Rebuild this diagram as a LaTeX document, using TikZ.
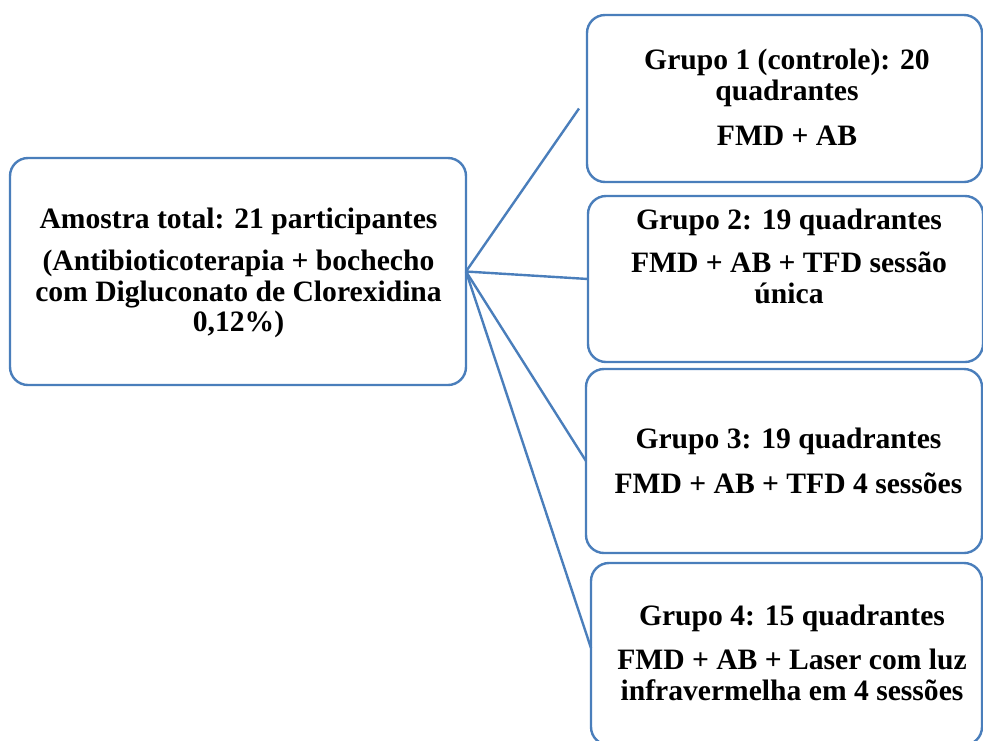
\documentclass[tikz,border=0pt]{standalone}
\usepackage{fontspec}
\setmainfont{Liberation Serif}
\definecolor{boxblue}{RGB}{74,126,187}
\begin{document}
\begin{tikzpicture}[x=1pt,y=-1pt,
  box/.style={draw=boxblue,line width=2.4pt,rounded corners=18pt,fill=white,inner sep=0pt,outer sep=0pt},
  link/.style={draw=boxblue,line width=2.4pt},
  txt/.style={anchor=base,align=center,inner sep=0pt,font=\bfseries\fontsize{29.6}{30.5}\selectfont}]
\useasboundingbox (0,0) rectangle (983,740);
\clip (0,0) rectangle (983,740);
\node[box,minimum width=456pt,minimum height=227pt] (root) at (238,271.5) {};
\node[box,minimum width=395pt,minimum height=167pt] (g1) at (784.5,98.5) {};
\node[box,minimum width=395pt,minimum height=166pt] (g2) at (785.5,279) {};
\node[box,minimum width=396pt,minimum height=184pt] (g3) at (784,461) {};
\node[box,minimum width=391pt,minimum height=182pt] (g4) at (786.5,654) {};
\coordinate (e1) at ([xshift=-8pt,yshift=-10pt]g1.west);
\draw[link] (root.east) -- (e1);
\draw[link] (root.east) -- (g2.west);
\draw[link] (root.east) -- (g3.west);
\draw[link] (root.east) -- ([yshift=6pt]g4.west);
\node[txt] (t0) at (238.5,331.7) {Amostra total: 21 participantes\\[12pt](Antibioticoterapia + bochecho\\com Digluconato de Clorexidina\\0,12\%)};
\node[txt] (t1) at (787,145.7) {Grupo 1 (controle): 20\\quadrantes\\[15pt]FMD + AB};
\node[txt] (t2) at (789,303.3) {Grupo 2: 19 quadrantes\\[12.5pt]FMD + AB + TFD sessão\\única};
\node[txt] (t3) at (788.5,493) {Grupo 3: 19 quadrantes\\[14pt]FMD + AB + TFD 4 sessões};
\node[txt] (t4) at (792,700) {Grupo 4: 15 quadrantes\\[14pt]FMD + AB + Laser com luz\\infravermelha em 4 sessões};
\end{tikzpicture}
\end{document}
